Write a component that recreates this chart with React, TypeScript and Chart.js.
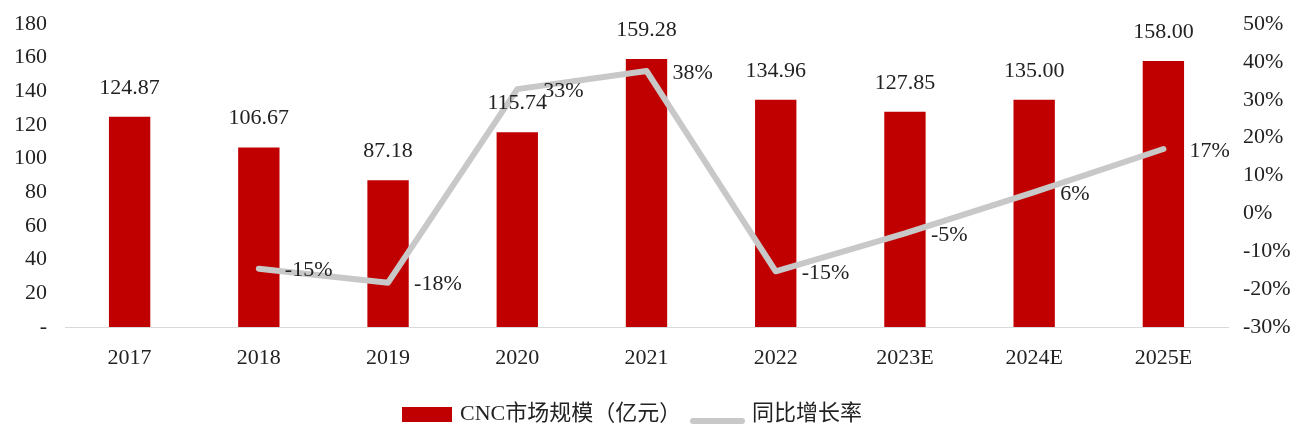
import React, { useEffect, useRef } from "react";
import { Chart, registerables } from "chart.js";

Chart.register(...registerables);

const categories = ["2017", "2018", "2019", "2020", "2021", "2022", "2023E", "2024E", "2025E"];
const marketSize = [124.87, 106.67, 87.18, 115.74, 159.28, 134.96, 127.85, 135.0, 158.0];
const growthRate = [null, -14.6, -18.3, 32.8, 37.6, -15.3, -5.3, 5.6, 17.0];
const barLabel = "CNC市场规模（亿元）";
const lineLabel = "同比增长率";
const leftTicks = { min: 0, max: 180, step: 20 };
const rightTicks = { min: -30, max: 50, step: 10 };

const FONT = "'Liberation Serif', 'Noto Sans CJK SC', serif";
const FS = 22;
const TEXT = "#222222";
const RED = "#C00000";
const GRAY = "#C8C8C8";

const labelPlugin = {
  id: "valueLabels",
  afterDatasetsDraw(chart: any) {
    const ctx = chart.ctx;
    ctx.save();
    ctx.font = `${FS}px ${FONT}`;
    ctx.fillStyle = TEXT;
    const barMeta = chart.getDatasetMeta(0);
    ctx.textAlign = "center";
    ctx.textBaseline = "middle";
    barMeta.data.forEach((el: any, i: number) => {
      ctx.fillText(marketSize[i].toFixed(2), el.x, el.y - 29);
    });
    const lineMeta = chart.getDatasetMeta(1);
    ctx.textAlign = "left";
    lineMeta.data.forEach((el: any, i: number) => {
      const v = growthRate[i];
      if (v === null || v === undefined) return;
      ctx.fillText(Math.round(v) + "%", el.x + 26, el.y + 2);
    });
    ctx.restore();
  },
};

const legendPlugin = {
  id: "customLegend",
  afterDraw(chart: any) {
    const ctx = chart.ctx;
    ctx.save();
    ctx.font = `${FS}px ${FONT}`;
    ctx.textBaseline = "middle";
    ctx.textAlign = "left";
    const cy = 414;
    ctx.fillStyle = RED;
    ctx.fillRect(402, cy - 7, 50, 15);
    ctx.fillStyle = TEXT;
    ctx.fillText(barLabel, 460, cy);
    ctx.strokeStyle = GRAY;
    ctx.lineWidth = 6;
    ctx.lineCap = "round";
    ctx.beginPath();
    ctx.moveTo(693, cy + 7);
    ctx.lineTo(742, cy + 7);
    ctx.stroke();
    ctx.fillText(lineLabel, 752, cy);
    ctx.restore();
  },
};

export default function App() {
  const ref = useRef<HTMLCanvasElement | null>(null);
  useEffect(() => {
    if (!ref.current) return;
    const chart = new Chart(ref.current, {
      type: "bar",
      data: {
        labels: categories,
        datasets: [
          {
            type: "bar",
            label: barLabel,
            data: marketSize,
            backgroundColor: RED,
            borderWidth: 0,
            barPercentage: 1,
            categoryPercentage: 0.32,
            yAxisID: "y",
            order: 2,
          } as any,
          {
            type: "line",
            label: lineLabel,
            data: growthRate,
            borderColor: GRAY,
            backgroundColor: GRAY,
            borderWidth: 6,
            pointRadius: 0,
            tension: 0,
            borderCapStyle: "round",
            borderJoinStyle: "round",
            yAxisID: "y1",
            order: 1,
          } as any,
        ],
      },
      options: {
        responsive: false,
        animation: false,
        layout: { padding: { top: 24, bottom: 0, left: 0, right: 0 } },
        plugins: {
          tooltip: { enabled: false },
          legend: { display: false },
        },
        scales: {
          x: {
            grid: { display: false, drawTicks: false },
            border: { display: true, color: "#D9D9D9", width: 1 },
            ticks: { color: TEXT, font: { family: FONT, size: FS }, padding: 18 },
            afterFit: (s: any) => {
              s.height = 111;
            },
          },
          y: {
            position: "left",
            min: leftTicks.min,
            max: leftTicks.max,
            grid: { display: false, drawTicks: false },
            border: { display: false },
            ticks: {
              stepSize: leftTicks.step,
              color: TEXT,
              font: { family: FONT, size: FS },
              padding: 18,
              callback: (v: any) => (v === 0 ? "-" : String(v)),
            },
            afterFit: (s: any) => {
              s.width = 65;
              s.paddingTop = 0;
              s.paddingBottom = 0;
            },
          },
          y1: {
            position: "right",
            min: rightTicks.min,
            max: rightTicks.max,
            grid: { display: false, drawTicks: false },
            border: { display: false },
            ticks: {
              stepSize: rightTicks.step,
              color: TEXT,
              font: { family: FONT, size: FS },
              padding: 15,
              callback: (v: any) => v + "%",
            },
            afterFit: (s: any) => {
              s.width = 80;
              s.paddingTop = 0;
              s.paddingBottom = 0;
            },
          },
        },
      },
      plugins: [labelPlugin, legendPlugin],
    } as any);
    return () => chart.destroy();
  }, []);
  return (
    <canvas
      ref={ref}
      width={1308}
      height={438}
      style={{ position: "fixed", left: 0, top: 0, width: 1308, height: 438, background: "#fff" }}
    />
  );
}
